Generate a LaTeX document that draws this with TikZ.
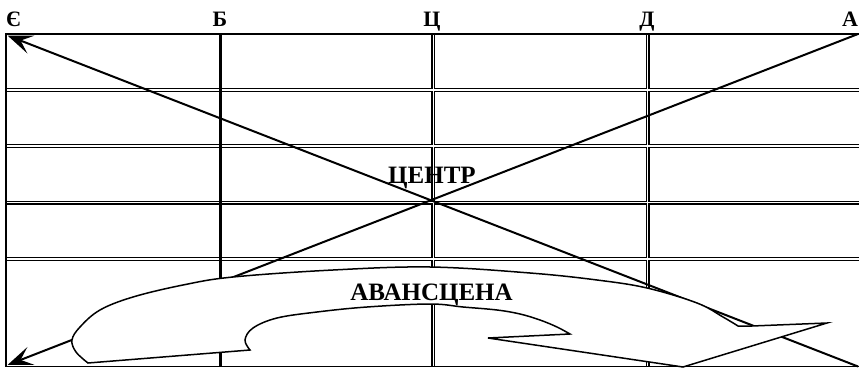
\documentclass[tikz,border=0pt]{standalone}
\usepackage{fontspec}
\setmainfont{Liberation Serif}
\usetikzlibrary{arrows.meta}
\begin{document}
\begin{tikzpicture}[x=1pt,y=-1pt,
  gridline/.style={line width=1.6pt, line cap=rect},
  dblblack/.style={line width=4pt},
  dblwhite/.style={line width=1.2pt, white},
  thickline/.style={line width=3pt},
  diag/.style={line width=2pt, -{Stealth[length=25pt, width=19pt, inset=11pt]}},
  band/.style={fill=white, draw=black, line width=1.5pt, line join=miter},
  toplabel/.style={font=\fontsize{22}{24}\selectfont\bfseries, anchor=base, inner sep=0pt},
  biglabel/.style={font=\fontsize{25}{27}\selectfont\bfseries, anchor=base, inner sep=0pt}]
\useasboundingbox (0,0) rectangle (859,369);
% corners
\coordinate (TL) at (6,34);
\coordinate (TR) at (858,34);
\coordinate (BL) at (6,366.5);
\coordinate (BR) at (858,366.5);
\coordinate (tipTL) at (7.5,35.5);
\coordinate (tipBL) at (7.5,365);
% double lines (black part)
\foreach \y in {90,146,202.8,259}
  \draw[dblblack] (6,\y) -- (859,\y);
\foreach \x in {433.3,647.5}
  \draw[dblblack] (\x,34) -- (\x,366.5);
% double lines (white gap)
\foreach \y in {90,146,202.8,259}
  \draw[dblwhite] (6.9,\y) -- (859,\y);
\foreach \x in {433.3,647.5}
  \draw[dblwhite] (\x,35) -- (\x,365.6);
% border
\draw[gridline] (TL) -- (859,34);
\draw[gridline] (BL) -- (859,366.5);
\draw[gridline] (TL) -- (BL);
% thick single column line
\draw[thickline] (220.5,34) -- (220.5,366.5);
% diagonals
\draw[diag] (TR) -- (tipBL);
\draw[diag] (BR) -- (tipTL);
% curved band arrow
\path[band]
  plot[smooth, tension=0.6] coordinates {(88,363) (76,352) (72,340) (80,327) (100,310) (133,297) (183,285) (233,277) (333,270) (430,267) (530,273) (597,280) (647,288) (697,303) (723,317) (738,326)}
  -- (752,326) -- (827,323) -- (683,367) -- (488,338) -- (570,334)
  -- plot[smooth, tension=0.6] coordinates {(570,334) (557,327) (540,320) (520,314) (497,310) (463,307) (430,304) (367,307) (317,312) (277,318) (253,328) (245,340) (250,350)}
  -- cycle;
% labels
\node[toplabel] (lE) at (13.5,27) {Є};
\node[toplabel] (lB) at (220,27) {Б};
\node[toplabel] (lC) at (432,27) {Ц};
\node[toplabel] (lD) at (647,27) {Д};
\node[toplabel] (lA) at (850,27) {А};
\node[biglabel] (centre) at (432,183) {ЦЕНТР};
\node[biglabel] (avans) at (431.5,300) {АВАНСЦЕНА};
\end{tikzpicture}
\end{document}
